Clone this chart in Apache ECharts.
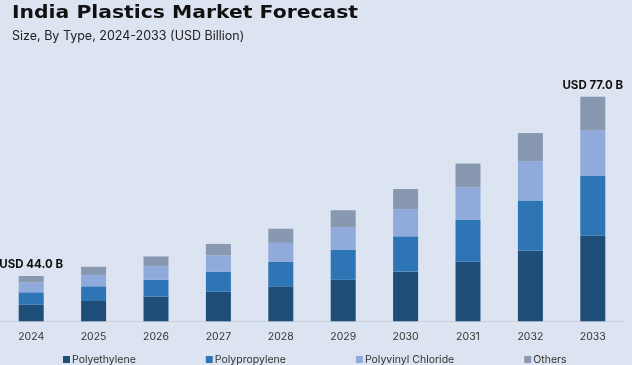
<!DOCTYPE html>
<html>
<head>
<meta charset="utf-8">
<script src="https://cdn.jsdelivr.net/npm/echarts@6/dist/echarts.min.js"></script>
<style>
html,body{margin:0;padding:0;background:#dce4f1;}
#chart{width:632px;height:365px;}
</style>
</head>
<body>
<div id="chart"></div>
<script>
// Data (USD Billion)
var years = ['2024','2025','2026','2027','2028','2029','2030','2031','2032','2033'];
var polyethylene  = [38.7, 39.4, 40.2, 41.1, 42.1, 43.3, 44.8, 46.6, 48.7, 51.4];
var polypropylene = [2.3, 2.7, 3.1, 3.7, 4.5, 5.5, 6.5, 7.7, 9.2, 11.0];
var pvc           = [1.8, 2.1, 2.5, 3.0, 3.5, 4.2, 5.0, 6.0, 7.2, 8.4];
var others        = [1.2, 1.5, 1.8, 2.1, 2.6, 3.1, 3.7, 4.4, 5.2, 6.2];
var seriesNames = ['Polyethylene','Polypropylene','Polyvinyl Chloride','Others'];
var labelledYears = ['2024','2033'];
var titleText = 'India Plastics Market Forecast';
var subtitleText = 'Size, By Type, 2024-2033 (USD Billion)';

var totals = years.map(function(y,i){
  return polyethylene[i]+polypropylene[i]+pvc[i]+others[i];
});

var colors = ['#1f4e79','#2e75b6','#8faadb','#8898b0'];
var font = 'Inter, "Noto Sans", sans-serif';

var chart = echarts.init(document.getElementById('chart'));
var barW = 25;
function mk(name, data, color, withLabel){
  var s = {
    name: name, type: 'bar', stack: 'total', data: data, barWidth: barW,
    itemStyle: {color: color},
    emphasis: {disabled: true},
    clip: true
  };
  if (withLabel) {
    s.label = {
      show: true, position: 'top', distance: 5,
      fontFamily: font, fontWeight: 'bold', fontSize: 11.5, color: '#111',
      formatter: function(p){
        if (labelledYears.indexOf(years[p.dataIndex]) < 0) return '';
        return 'USD ' + totals[p.dataIndex].toFixed(1) + ' B';
      }
    };
  }
  return s;
}
chart.setOption({
  backgroundColor: '#dce4f1',
  animation: false,
  title: [
    {text: subtitleText, left: 7, top: 25,
     textStyle: {fontFamily: font, fontWeight: 'normal', fontSize: 12.5, color: '#222'}}
  ],
  graphic: [
    {type: 'text', x: 12, y: 4, scaleX: 1.13, scaleY: 1,
     style: {text: titleText, fill: '#111',
       font: 'bold 18px "DejaVu Sans", sans-serif',
       textAlign: 'left', textVerticalAlign: 'top'}}
  ],
  legend: {
    data: seriesNames, bottom: -5, left: 58,
    itemWidth: 7, itemHeight: 7, itemGap: 70, icon: 'rect',
    textStyle: {fontFamily: font, fontSize: 10.5, color: '#333', padding: [0,0,0,-3]}
  },
  grid: {left: -1, right: 8, top: 90, bottom: 43.7},
  xAxis: {
    type: 'category', data: years,
    axisLine: {lineStyle: {color: '#c9d1dd', width: 1}},
    axisTick: {show: false},
    axisLabel: {fontFamily: font, fontSize: 10.5, color: '#333', margin: 10}
  },
  yAxis: {
    type: 'value', min: 35.66, max: 78.23,
    show: false, splitLine: {show: false}
  },
  series: [
    mk(seriesNames[0], polyethylene, colors[0], false),
    mk(seriesNames[1], polypropylene, colors[1], false),
    mk(seriesNames[2], pvc, colors[2], false),
    mk(seriesNames[3], others, colors[3], true)
  ]
});
</script>
</body>
</html>
